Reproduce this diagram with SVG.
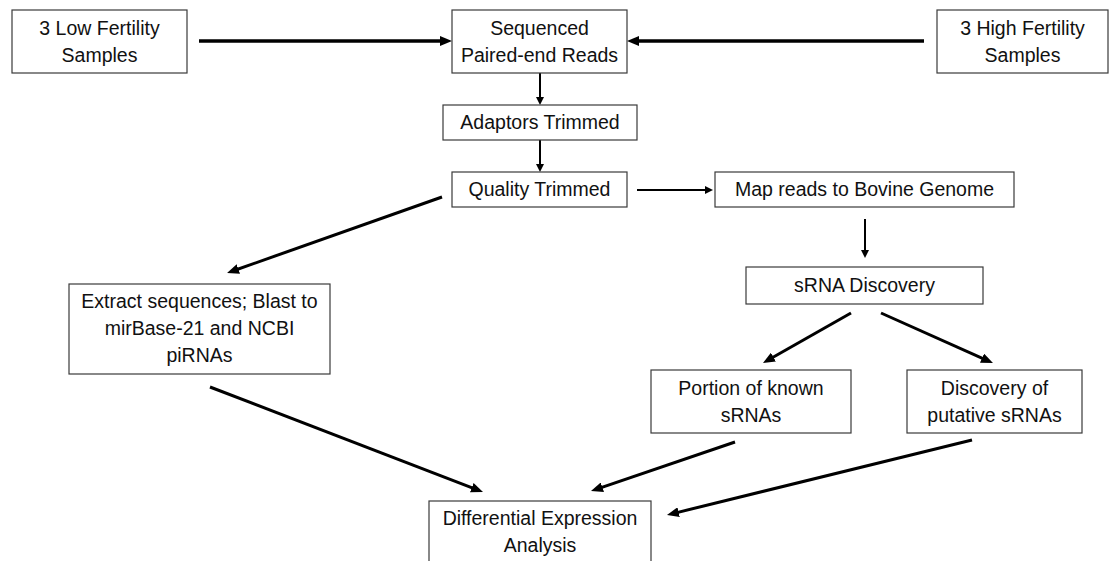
<svg xmlns="http://www.w3.org/2000/svg" width="1109" height="561" viewBox="0 0 1109 561">
<style>
  .box { fill: #ffffff; stroke: #3a3a3a; stroke-width: 1.2; }
  .lbl { font-family: "Liberation Sans", Arial, sans-serif; font-size: 19.5px; fill: #111111; text-anchor: middle; }
  .thick { stroke: #000000; stroke-width: 3.5; fill: none; marker-end: url(#ah); }
  .mid { stroke: #000000; stroke-width: 3; fill: none; marker-end: url(#ah); }
  .thin { stroke: #000000; stroke-width: 2; fill: none; marker-end: url(#ahs); }
</style>
<defs>
  <marker id="ah" markerUnits="userSpaceOnUse" markerWidth="12" markerHeight="10" refX="6" refY="5" orient="auto" viewBox="0 0 12 10">
    <path d="M0,0 L12,5 L0,10 z" fill="#000000"/>
  </marker>
  <marker id="ahs" markerUnits="userSpaceOnUse" markerWidth="8" markerHeight="8" refX="4" refY="4" orient="auto" viewBox="0 0 8 8">
    <path d="M0,0 L8,4 L0,8 z" fill="#000000"/>
  </marker>
</defs>
<rect width="1109" height="561" fill="#ffffff"/>

<g id="connectors">
  <line class="thick" x1="199" y1="41" x2="446" y2="41"/>
  <line class="thick" x1="924" y1="41" x2="633" y2="41"/>
  <line class="thin" x1="540" y1="73" x2="540" y2="101"/>
  <line class="thin" x1="540" y1="140" x2="540" y2="168"/>
  <line class="thin" x1="637" y1="190" x2="709" y2="190"/>
  <line class="thin" x1="865" y1="219" x2="865" y2="254"/>
  <line class="mid" x1="442" y1="197" x2="232.7" y2="271"/>
  <line class="mid" x1="851" y1="313" x2="768.2" y2="360"/>
  <line class="mid" x1="881" y1="313" x2="987.5" y2="360.6"/>
  <line class="mid" x1="210" y1="387" x2="477.4" y2="489.8"/>
  <line class="mid" x1="735" y1="442" x2="596.7" y2="489.1"/>
  <line class="mid" x1="972" y1="440" x2="672.8" y2="513.6"/>
</g>

<g id="low">
  <rect class="box" x="12" y="10" width="175" height="63"/>
  <text class="lbl" x="99.5" y="35">3 Low Fertility</text>
  <text class="lbl" x="99.5" y="62">Samples</text>
</g>
<g id="sequenced">
  <rect class="box" x="452" y="10" width="175" height="63"/>
  <text class="lbl" x="539.5" y="35">Sequenced</text>
  <text class="lbl" x="539.5" y="62">Paired-end Reads</text>
</g>
<g id="high">
  <rect class="box" x="937" y="10" width="171" height="63"/>
  <text class="lbl" x="1022.5" y="35">3 High Fertility</text>
  <text class="lbl" x="1022.5" y="62">Samples</text>
</g>
<g id="adaptors">
  <rect class="box" x="443" y="105" width="194" height="35"/>
  <text class="lbl" x="540" y="129">Adaptors Trimmed</text>
</g>
<g id="quality">
  <rect class="box" x="452" y="172" width="175" height="35"/>
  <text class="lbl" x="539.5" y="196">Quality Trimmed</text>
</g>
<g id="map">
  <rect class="box" x="715" y="172" width="299" height="35"/>
  <text class="lbl" x="864.5" y="196">Map reads to Bovine Genome</text>
</g>
<g id="srna">
  <rect class="box" x="746" y="267" width="237" height="37"/>
  <text class="lbl" x="864.5" y="292">sRNA Discovery</text>
</g>
<g id="extract">
  <rect class="box" x="69" y="284" width="261" height="90"/>
  <text class="lbl" x="199.5" y="308">Extract sequences; Blast to</text>
  <text class="lbl" x="199.5" y="335">mirBase-21 and NCBI</text>
  <text class="lbl" x="199.5" y="362">piRNAs</text>
</g>
<g id="portion">
  <rect class="box" x="651" y="370" width="200" height="63"/>
  <text class="lbl" x="751" y="395">Portion of known</text>
  <text class="lbl" x="751" y="422">sRNAs</text>
</g>
<g id="discovery">
  <rect class="box" x="907" y="370" width="175" height="63"/>
  <text class="lbl" x="994.5" y="395">Discovery of</text>
  <text class="lbl" x="994.5" y="422">putative sRNAs</text>
</g>
<g id="diff">
  <rect class="box" x="429" y="501" width="222" height="70"/>
  <text class="lbl" x="540" y="525">Differential Expression</text>
  <text class="lbl" x="540" y="552">Analysis</text>
</g>
</svg>
